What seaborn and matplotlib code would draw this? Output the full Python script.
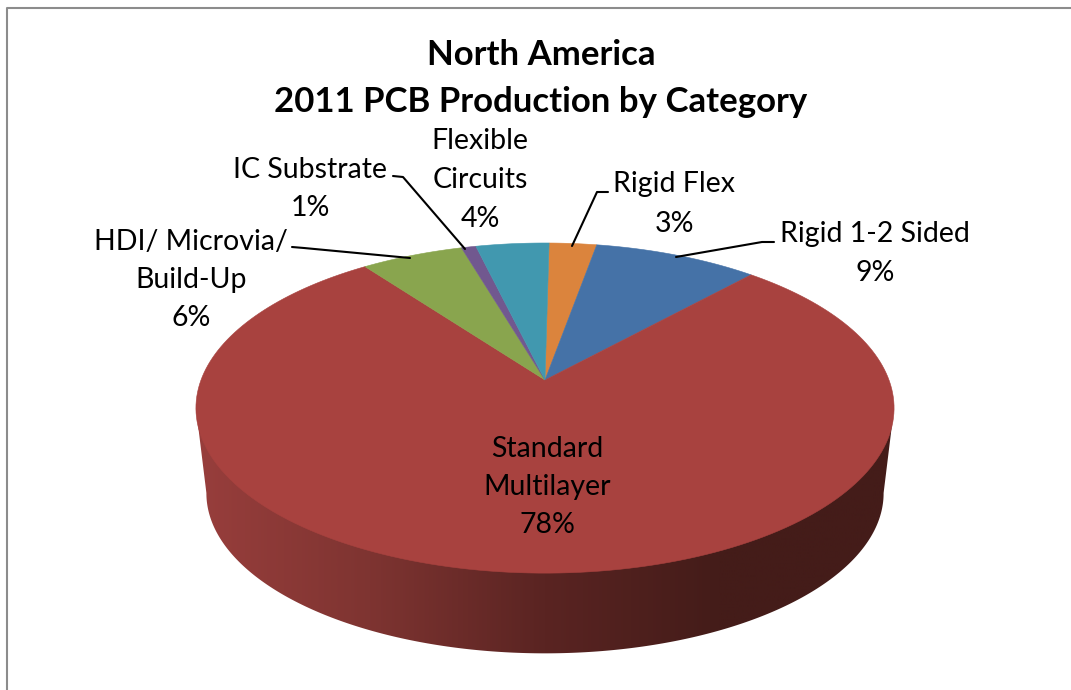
import numpy as np
import matplotlib.pyplot as plt
import seaborn as sns
from matplotlib.colors import LinearSegmentedColormap
from matplotlib.patches import Polygon

# Slice data, clockwise from the top of the pie
categories = ["Rigid Flex", "Rigid 1-2 Sided", "Standard Multilayer",
              "HDI/ Microvia/ Build-Up", "IC Substrate", "Flexible Circuits"]
shares = [2.6, 9.0, 78.4, 5.6, 0.8, 4.0]
title_lines = ["North America", "2011 PCB Production by Category"]

slice_colors = ["#DB843D", "#4572A7", "#A8423F", "#89A54E", "#71588F", "#4198AF"]
wall_colors = ["#983E3C", "#7E3431", "#5A2422", "#441C19", "#441C19"]

sns.set_theme(style="white")
plt.rcParams["font.family"] = ["Lato", "DejaVu Sans"]

fig = plt.figure(figsize=(10.71, 6.9), dpi=100)
ax = fig.add_axes([0, 0, 1, 1])
ax.axis("off")


def project(theta, scale=1.0, cy=380.0):
    # perspective view of the unit circle, theta clockwise from the top
    k = 0.17
    x, y = np.sin(theta), np.cos(theta)
    return 545 + scale * 344 * x / (1 + k * y), cy - scale * 160.3 * y / (1 + k * y)


# Side wall, shaded left to right and clipped to the disc outline
wall_cmap = LinearSegmentedColormap.from_list("wall", wall_colors)
ts = np.radians(np.linspace(60, 300, 400))
top_x, top_y = project(ts)
bot_x, bot_y = project(ts, scale=0.97, cy=466.0)
r_t, l_t = top_x.argmax(), top_x.argmin()
r_b, l_b = bot_x.argmax(), bot_x.argmin()
outline = np.vstack([
    np.column_stack([bot_x[r_b:l_b + 1], bot_y[r_b:l_b + 1]]),
    [[top_x[l_t], top_y[l_t]], [top_x[r_t], top_y[r_t]]],
])
wall = ax.imshow(np.linspace(0, 1, 512)[None, :], cmap=wall_cmap, aspect="auto",
                 extent=[196, 893, 690, 300], interpolation="bilinear")
wall.set_clip_path(Polygon(outline, transform=ax.transData))

ax.set_xlim(0, 1071)
ax.set_ylim(690, 0)

# Chart frame, only top and left show in the crop
ax.plot([6.5, 6.5, 1071], [690, 7.5, 7.5], color="#8C8C8C", lw=1.5)

# Top face
fractions = np.array(shares) / sum(shares)
edges = np.radians(0.8) + 2 * np.pi * np.concatenate([[0], np.cumsum(fractions)])
for start, stop, color in zip(edges[:-1], edges[1:], sns.color_palette(slice_colors)):
    arc = np.linspace(start, stop, 200)
    xs, ys = project(arc)
    ax.fill(np.r_[545, xs], np.r_[380, ys], color=color, lw=0.4)

# Leader lines
leaders = [
    ([393, 403, 465], [176, 177, 249]),
    ([608, 597, 572], [192, 192, 246]),
    ([774, 762, 676], [242, 242, 257]),
    ([292, 304, 410], [247, 248, 258]),
]
for xs, ys in leaders:
    ax.plot(xs, ys, color="black", lw=1.5, solid_joinstyle="round")

# Labels: name lines and the rounded percent underneath
pct = [f"{v:.0f}%" for v in shares]
label_layout = [
    (["Rigid Flex"], 674, [184, 224]),
    (["Rigid 1-2 Sided"], 875, [234, 273]),
    (["Standard", "Multilayer"], 547, [449, 487, 525]),
    (["HDI/ Microvia/", "Build-Up"], 191, [242, 280, 318]),
    (["IC Substrate"], 310, [170, 208]),
    (["Flexible", "Circuits"], 480, [141, 180, 219]),
]
for (lines, x, ys), p in zip(label_layout, pct):
    for text, y in zip(lines + [p], ys):
        ax.text(x, y, text, ha="center", va="center", fontsize=20.5, color="black")

for text, y in zip(title_lines, [55, 102]):
    ax.text(541, y, text, ha="center", va="center", fontsize=25,
            fontweight="bold", color="black")

fig.savefig("out.png", dpi=100)
